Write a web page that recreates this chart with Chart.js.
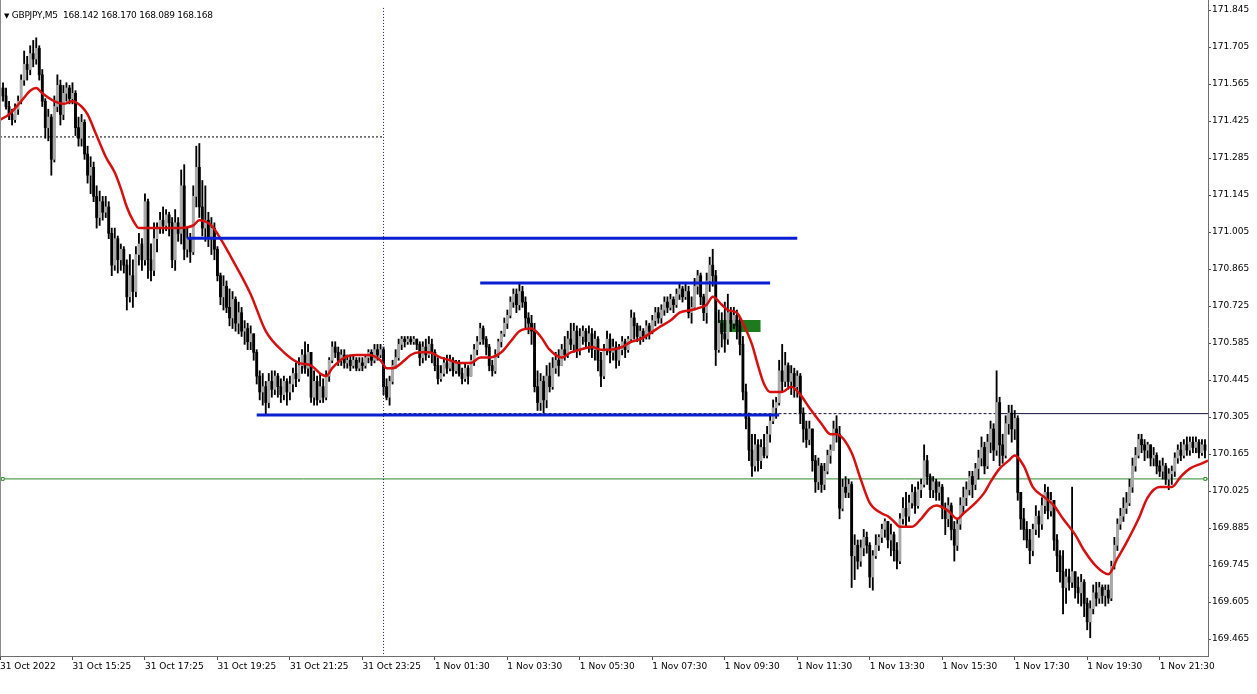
<!DOCTYPE html>
<html>
<head>
<meta charset="utf-8">
<title>GBPJPY,M5</title>
<script src="https://cdn.jsdelivr.net/npm/chart.js@4.4.1/dist/chart.umd.min.js"></script>
<style>
    html, body { margin: 0; padding: 0; background: #fff; }
    #wrap { position: relative; width: 1257px; height: 694px; }
    #chart { display: block; }
    #edge { position: absolute; left: 0; top: 0; width: 1px; height: 656px; background: #8c8c8c; }
    #title { position: absolute; left: 4px; top: 10px; font: 9px "DejaVu Sans", sans-serif; letter-spacing: -0.25px; color: #000; white-space: pre; }
    #title .tri { font-size: 7px; }
</style>
</head>
<body>
<div id="wrap">
    <canvas id="chart" width="1257" height="694"></canvas>
    <div id="edge"></div>
    <div id="title"></div>
</div>
<script>
/* ===== DATA ===== */
const symbol = "GBPJPY,M5";
const quote = ["168.142", "168.170", "168.089", "168.168"];

// one label every 24 bars (2 hours of M5)
const timeLabels = [
    "31 Oct 2022", "31 Oct 15:25", "31 Oct 17:25", "31 Oct 19:25", "31 Oct 21:25", "31 Oct 23:25",
    "1 Nov 01:30", "1 Nov 03:30", "1 Nov 05:30", "1 Nov 07:30", "1 Nov 09:30", "1 Nov 11:30",
    "1 Nov 13:30", "1 Nov 15:30", "1 Nov 17:30", "1 Nov 19:30", "1 Nov 21:30"
];

const priceTicks = [
    169.465, 169.605, 169.745, 169.885, 170.025, 170.165, 170.305, 170.445, 170.585,
    170.725, 170.865, 171.005, 171.145, 171.285, 171.425, 171.565, 171.705, 171.845
];

const firstOpen = 171.50;

// one row = one hour (12 bars), last row 16 bars
const closes = [
    171.55,171.52,171.48,171.45,171.43,171.47,171.50,171.58,171.64,171.62,171.68,171.66,
    171.70,171.60,171.50,171.40,171.44,171.28,171.48,171.56,171.45,171.53,171.55,171.51,
    171.53,171.40,171.36,171.42,171.30,171.22,171.25,171.14,171.06,171.12,171.08,171.10,
    171.00,170.88,170.98,170.90,170.94,170.88,170.76,170.84,170.78,170.92,170.96,170.90,
    171.12,170.90,170.86,170.98,171.02,171.05,171.03,171.07,171.04,170.90,171.04,171.00,
    171.18,170.94,170.98,170.93,171.14,171.25,171.10,171.02,171.05,170.98,171.02,170.94,
    170.84,170.76,170.80,170.72,170.68,170.75,170.66,170.70,170.63,170.64,170.59,170.62,
    170.55,170.46,170.40,170.42,170.36,170.44,170.41,170.46,170.42,170.39,170.44,170.40,
    170.43,170.47,170.45,170.50,170.54,170.49,170.55,170.38,170.44,170.37,170.42,170.38,
    170.46,170.52,170.57,170.55,170.52,170.54,170.51,170.52,170.50,170.52,170.49,170.51,
    170.50,170.53,170.55,170.52,170.56,170.54,170.56,170.42,170.38,170.44,170.50,170.53,
    170.58,170.60,170.59,170.60,170.59,170.60,170.58,170.53,170.57,170.54,170.58,170.55,
    170.50,170.45,170.47,170.51,170.49,170.52,170.48,170.51,170.47,170.45,170.49,170.46,
    170.52,170.56,170.59,170.64,170.60,170.57,170.50,170.48,170.54,170.59,170.62,170.66,
    170.69,170.74,170.77,170.73,170.78,170.74,170.68,170.66,170.63,170.42,170.36,170.44,
    170.37,170.46,170.42,170.49,170.52,170.50,170.56,170.54,170.60,170.58,170.63,170.56,
    170.61,170.63,170.59,170.62,170.56,170.60,170.52,170.46,170.56,170.60,170.55,170.57,
    170.52,170.56,170.59,170.56,170.60,170.68,170.65,170.61,170.63,170.61,170.65,170.63,
    170.67,170.70,170.68,170.71,170.74,170.72,170.75,170.73,170.77,170.79,170.76,170.78,
    170.70,170.72,170.80,170.84,170.76,170.70,170.82,170.88,170.84,170.56,170.66,170.62,
    170.60,170.70,170.66,170.69,170.65,170.58,170.40,170.30,170.18,170.12,170.20,170.14,
    170.19,170.16,170.24,170.29,170.34,170.36,170.48,170.44,170.50,170.44,170.47,170.42,
    170.46,170.32,170.26,170.22,170.26,170.14,170.06,170.12,170.05,170.10,170.16,170.18,
    170.26,170.24,169.96,170.04,170.02,170.05,169.78,169.82,169.76,169.81,169.85,169.82,
    169.70,169.78,169.82,169.85,169.88,169.91,169.84,169.86,169.80,169.76,169.92,169.96,
    169.93,169.98,170.02,169.97,170.03,170.05,170.14,170.08,170.03,170.06,170.02,170.04,
    169.96,169.92,169.97,169.88,169.82,169.90,169.97,170.00,170.03,170.08,170.05,170.11,
    170.15,170.19,170.12,170.21,170.26,170.18,170.36,170.20,170.16,170.28,170.32,170.26,
    170.30,170.02,169.92,169.88,169.84,169.80,169.88,169.93,169.90,169.97,170.02,169.95,
    169.99,169.84,169.78,169.72,169.66,169.70,169.68,169.72,169.66,169.64,169.68,169.60,
    169.53,169.58,169.64,169.62,169.66,169.63,169.65,169.62,169.74,169.82,169.90,169.93,
    169.96,169.98,170.04,170.12,170.16,170.22,170.20,170.18,170.20,170.15,170.16,170.12,
    170.10,170.12,170.07,170.09,170.10,170.15,170.18,170.16,170.20,170.18,170.21,170.19,170.21,170.17,170.20,170.18
];

const highs = [
    171.58,171.57,171.55,171.50,171.47,171.49,171.52,171.60,171.69,171.67,171.71,171.73,
    171.74,171.71,171.62,171.51,171.47,171.45,171.52,171.60,171.58,171.56,171.57,171.56,
    171.57,171.54,171.44,171.45,171.43,171.33,171.29,171.27,171.18,171.16,171.14,171.14,
    171.12,171.02,171.02,170.99,170.96,170.95,170.90,170.92,170.90,170.95,171.00,170.98,
    171.15,171.13,170.96,171.04,171.04,171.08,171.10,171.09,171.08,171.06,171.09,171.06,
    171.24,171.26,171.02,171.00,171.18,171.33,171.34,171.20,171.18,171.08,171.06,171.04,
    170.95,170.85,170.84,170.82,170.79,170.78,170.76,170.74,170.72,170.67,170.66,170.65,
    170.62,170.56,170.48,170.47,170.44,170.47,170.48,170.48,170.47,170.45,170.46,170.45,
    170.46,170.49,170.51,170.53,170.56,170.59,170.58,170.55,170.48,170.46,170.47,170.45,
    170.48,170.53,170.59,170.59,170.57,170.56,170.56,170.54,170.54,170.54,170.53,170.53,
    170.53,170.54,170.56,170.56,170.58,170.58,170.58,170.57,170.45,170.46,170.52,170.56,
    170.60,170.61,170.61,170.61,170.61,170.61,170.60,170.59,170.59,170.60,170.61,170.60,
    170.56,170.53,170.50,170.53,170.54,170.54,170.53,170.52,170.52,170.49,170.51,170.50,
    170.54,170.58,170.61,170.66,170.65,170.61,170.58,170.52,170.56,170.60,170.63,170.68,
    170.71,170.76,170.79,170.79,170.81,170.80,170.76,170.70,170.69,170.66,170.48,170.47,
    170.46,170.50,170.51,170.53,170.55,170.56,170.58,170.61,170.63,170.66,170.66,170.65,
    170.64,170.65,170.64,170.65,170.64,170.63,170.61,170.55,170.58,170.63,170.62,170.60,
    170.59,170.58,170.61,170.60,170.61,170.71,170.70,170.66,170.65,170.64,170.67,170.66,
    170.69,170.72,170.72,170.73,170.76,170.76,170.77,170.76,170.79,170.81,170.80,170.81,
    170.80,170.76,170.83,170.86,170.85,170.77,170.85,170.91,170.94,170.86,170.71,170.70,
    170.74,170.77,170.72,170.72,170.71,170.68,170.61,170.43,170.32,170.24,170.24,170.22,
    170.22,170.24,170.27,170.31,170.37,170.38,170.52,170.58,170.55,170.51,170.50,170.49,
    170.48,170.47,170.34,170.29,170.29,170.26,170.16,170.15,170.13,170.13,170.18,170.20,
    170.29,170.31,170.27,170.07,170.08,170.07,170.06,169.86,169.84,169.84,169.88,169.87,
    169.83,169.80,169.86,169.86,169.90,169.92,169.91,169.90,169.87,169.83,169.94,170.00,
    170.02,170.01,170.05,170.04,170.06,170.07,170.20,170.16,170.09,170.08,170.07,170.06,
    170.05,169.98,170.00,169.98,169.91,169.92,170.00,170.04,170.06,170.10,170.10,170.13,
    170.18,170.23,170.21,170.24,170.29,170.28,170.48,170.38,170.24,170.31,170.35,170.35,
    170.33,170.31,170.02,169.96,169.91,169.88,169.90,169.97,169.95,170.00,170.05,170.04,
    170.02,169.99,169.86,169.80,169.80,169.73,169.73,170.04,169.72,169.70,169.71,169.69,
    169.62,169.61,169.67,169.68,169.68,169.67,169.67,169.67,169.76,169.85,169.92,169.96,
    170.00,170.02,170.07,170.15,170.19,170.24,170.24,170.22,170.21,170.20,170.19,170.17,
    170.14,170.15,170.13,170.11,170.12,170.17,170.20,170.21,170.22,170.23,170.23,170.23,170.23,170.22,170.22,170.22
];

const lows = [
    171.49,171.50,171.47,171.43,171.41,171.42,171.45,171.49,171.56,171.58,171.60,171.63,
    171.64,171.58,171.48,171.36,171.35,171.22,171.27,171.46,171.41,171.43,171.50,171.49,
    171.49,171.37,171.33,171.33,171.28,171.19,171.15,171.12,171.02,171.03,171.05,171.06,
    170.98,170.84,170.86,170.85,170.86,170.85,170.71,170.74,170.72,170.76,170.88,170.86,
    170.88,170.83,170.82,170.84,170.93,171.00,171.00,171.01,170.99,170.87,170.86,170.97,
    170.96,170.90,170.91,170.89,170.92,171.10,171.06,170.99,170.97,170.95,170.92,170.90,
    170.82,170.73,170.71,170.70,170.65,170.64,170.63,170.62,170.61,170.58,170.56,170.56,
    170.52,170.43,170.37,170.35,170.31,170.34,170.38,170.39,170.38,170.36,170.37,170.35,
    170.37,170.40,170.42,170.44,170.47,170.47,170.46,170.36,170.35,170.35,170.36,170.36,
    170.37,170.44,170.51,170.53,170.50,170.50,170.49,170.49,170.48,170.49,170.48,170.48,
    170.48,170.49,170.51,170.50,170.51,170.52,170.53,170.39,170.37,170.35,170.43,170.49,
    170.52,170.56,170.57,170.58,170.58,170.58,170.56,170.50,170.51,170.52,170.53,170.51,
    170.48,170.43,170.44,170.46,170.47,170.48,170.46,170.47,170.46,170.43,170.44,170.43,
    170.46,170.50,170.54,170.58,170.58,170.54,170.48,170.46,170.47,170.53,170.57,170.61,
    170.64,170.68,170.72,170.70,170.71,170.72,170.64,170.62,170.58,170.40,170.33,170.33,
    170.32,170.34,170.40,170.41,170.47,170.46,170.50,170.52,170.53,170.56,170.55,170.53,
    170.54,170.58,170.57,170.55,170.53,170.52,170.48,170.42,170.45,170.54,170.51,170.52,
    170.49,170.50,170.54,170.53,170.55,170.59,170.60,170.59,170.58,170.59,170.60,170.60,
    170.62,170.65,170.66,170.66,170.69,170.70,170.71,170.70,170.72,170.75,170.74,170.75,
    170.68,170.66,170.71,170.77,170.73,170.67,170.66,170.78,170.80,170.50,170.55,170.57,
    170.55,170.58,170.63,170.64,170.60,170.54,170.37,170.26,170.14,170.08,170.10,170.10,
    170.11,170.15,170.15,170.21,170.28,170.30,170.35,170.40,170.42,170.41,170.39,170.38,
    170.38,170.28,170.21,170.19,170.20,170.10,170.02,170.03,170.02,170.03,170.09,170.13,
    170.18,170.21,169.92,169.95,170.00,170.00,169.66,169.69,169.73,169.74,169.78,169.79,
    169.66,169.65,169.77,169.80,169.83,169.85,169.81,169.78,169.76,169.73,169.75,169.90,
    169.89,169.91,169.96,169.94,169.96,170.00,170.04,170.05,170.00,170.00,169.99,169.99,
    169.92,169.86,169.89,169.84,169.76,169.80,169.88,169.94,169.97,170.01,170.00,170.03,
    170.07,170.12,170.09,170.11,170.17,170.14,170.16,170.12,170.13,170.15,170.24,170.21,
    170.22,169.99,169.88,169.84,169.81,169.75,169.78,169.86,169.85,169.88,169.94,169.92,
    169.93,169.80,169.72,169.68,169.56,169.60,169.65,169.66,169.62,169.60,169.59,169.55,
    169.50,169.47,169.56,169.59,169.60,169.60,169.59,169.60,169.61,169.73,169.80,169.88,
    169.91,169.94,169.97,170.02,170.10,170.15,170.17,170.14,170.15,170.12,170.12,170.09,
    170.08,170.07,170.05,170.03,170.05,170.08,170.13,170.14,170.15,170.16,170.16,170.17,170.17,170.15,170.16,170.15
];

// red moving average at these bar numbers
const maBars = [
    0, 3, 7, 10, 12, 14, 18, 21, 24, 27, 29, 32, 35, 38, 40, 42, 44, 46, 51, 55,
    60, 64, 66, 70, 73, 77, 83, 88, 94, 99, 103, 106, 108, 110, 114, 118, 122, 126, 128, 130,
    134, 136, 139, 142, 146, 149, 152, 156, 159, 162, 166, 169, 172, 176, 179, 182, 186, 189, 192, 196,
    199, 202, 206, 209, 212, 215, 219, 222, 225, 229, 232, 234, 236, 239, 241, 244, 246, 249, 251, 253,
    255, 259, 262, 265, 268, 272, 275, 277, 282, 285, 288, 292, 294, 296, 298, 302, 305, 308, 310, 314,
    317, 319, 323, 326, 328, 331, 334, 336, 339, 342, 346, 349, 352, 356, 359, 363, 367, 370, 373, 377,
    380, 384, 388, 391, 394, 398, 400
];
const maValues = [
    171.43,171.45,171.50,171.54,171.55,171.53,171.50,171.49,171.50,171.48,171.45,171.37,171.29,171.23,171.17,171.10,171.05,171.02,171.02,171.02,
    171.02,171.03,171.05,171.03,170.98,170.90,170.77,170.63,170.55,170.51,170.50,170.47,170.46,170.49,170.53,170.54,170.54,170.52,170.49,170.49,
    170.52,170.54,170.55,170.55,170.53,170.52,170.51,170.51,170.53,170.53,170.55,170.59,170.63,170.64,170.61,170.56,170.53,170.55,170.56,170.57,
    170.56,170.56,170.57,170.59,170.60,170.62,170.65,170.67,170.70,170.71,170.72,170.73,170.76,170.73,170.71,170.70,170.66,170.58,170.50,170.43,
    170.40,170.40,170.42,170.39,170.34,170.28,170.24,170.24,170.17,170.07,169.98,169.94,169.93,169.91,169.89,169.89,169.92,169.96,169.97,169.95,
    169.92,169.94,169.98,170.02,170.06,170.11,170.14,170.16,170.12,170.04,170.00,169.97,169.92,169.86,169.80,169.74,169.71,169.77,169.83,169.92,
    170.00,170.04,170.04,170.08,170.11,170.13,170.14
];

// drawn objects: levels in price, spans in bar numbers
const blueLevels = [170.982, 170.812, 170.313];
const blueFrom = [62, 159, 85];
const blueTo = [264, 255, 258];
const greenLevel = 170.071;
const oldHighLevel = 171.365;
const oldHighTo = 126.5;
const midnightBar = 127;
const supportLevel = 170.318;
const supportDashedTo = 331;
const boxTop = 170.672;
const boxBottom = 170.627;
const boxFrom = 237.6;
const boxTo = 251.9;

const BAR_COUNT = closes.length;
const Y_MIN = 169.401;
const Y_MAX = 171.883;

/* ===== TITLE ===== */
document.getElementById("title").innerHTML =
    '<span class="tri">\u25BC</span> ' + symbol + "  " + quote.join(" ");

/* ===== CANDLES ===== */
// M5 forex bars open at the prior bar's close
const opens = closes.map((c, i) => (i === 0 ? firstOpen : closes[i - 1]));
const wicks = highs.map((h, i) => ({ x: i, y: [lows[i], h] }));
const bodies = closes.map((c, i) => ({ x: i, y: [Math.min(opens[i], c), Math.max(opens[i], c)] }));
const bodyColors = closes.map((c, i) => (c >= opens[i] ? "#a9a9a9" : "#000000"));

function hLine(level, from, to) {
    return [{ x: from, y: level }, { x: to, y: level }];
}

const blueSets = blueLevels.map((lv, k) => ({
    type: "line",
    data: hLine(lv, blueFrom[k], blueTo[k]),
    borderColor: "#0a1ed2",
    borderWidth: 3,
    borderCapStyle: "butt",
    pointRadius: 0,
    order: 1
}));

const font = { family: "'DejaVu Sans', sans-serif", size: 9 };

new Chart(document.getElementById("chart"), {
    type: "bar",
    data: {
        datasets: [
            {
                type: "line",
                data: hLine(boxTop, boxFrom, boxTo),
                borderWidth: 0,
                pointRadius: 0,
                fill: { value: boxBottom },
                backgroundColor: "#1f7a1f",
                order: 20
            },
            {
                type: "line",
                data: [{ x: 0, y: greenLevel }, { x: 0.9, y: greenLevel }, { x: BAR_COUNT - 0.9, y: greenLevel }, { x: BAR_COUNT, y: greenLevel }],
                borderColor: "#2a8a2a",
                borderWidth: 1,
                pointRadius: [0, 2, 2, 0],
                pointStyle: "rect",
                pointBackgroundColor: "#ffffff",
                pointBorderColor: "#2a8a2a",
                pointBorderWidth: 1,
                order: 15
            },
            {
                type: "line",
                data: hLine(oldHighLevel, 0, oldHighTo),
                borderColor: "#000000",
                borderWidth: 1,
                borderDash: [2, 2],
                pointRadius: 0,
                order: 15
            },
            {
                type: "line",
                data: hLine(supportLevel, midnightBar, supportDashedTo),
                borderColor: "#10103a",
                borderWidth: 1,
                borderDash: [3, 2],
                pointRadius: 0,
                order: 15
            },
            {
                type: "line",
                data: hLine(supportLevel, supportDashedTo, BAR_COUNT),
                borderColor: "#10103a",
                borderWidth: 1,
                pointRadius: 0,
                order: 15
            },
            {
                data: wicks,
                backgroundColor: "#000000",
                barThickness: 1.2,
                grouped: false,
                order: 11
            },
            {
                data: bodies,
                backgroundColor: bodyColors,
                barThickness: 2.2,
                minBarLength: 1,
                grouped: false,
                order: 10
            },
            {
                type: "line",
                data: maBars.map((b, i) => ({ x: b, y: maValues[i] })),
                borderColor: "#d41010",
                borderWidth: 2.5,
                cubicInterpolationMode: "monotone",
                pointRadius: 0,
                order: 5
            },
            ...blueSets,
            {
                type: "line",
                data: [{ x: midnightBar, y: 171.853 }, { x: midnightBar, y: Y_MIN }],
                borderColor: "#1a1a5a",
                borderWidth: 1,
                borderDash: [1, 2],
                pointRadius: 0,
                order: 0
            }
        ]
    },
    options: {
        responsive: false,
        animation: false,
        devicePixelRatio: 1,
        layout: { padding: 0 },
        plugins: {
            legend: { display: false },
            tooltip: { enabled: false }
        },
        scales: {
            x: {
                type: "linear",
                min: 0,
                max: BAR_COUNT,
                offset: false,
                afterBuildTicks: (s) => { s.ticks = timeLabels.map((t, k) => ({ value: k * 24 })); },
                afterFit: (s) => { s.height = 38; s.paddingLeft = 0; s.paddingRight = 0; },
                ticks: {
                    autoSkip: false,
                    maxRotation: 0,
                    minRotation: 0,
                    align: "start",
                    padding: 1,
                    color: "#000",
                    font: font,
                    callback: (v, i) => timeLabels[i]
                },
                grid: { drawOnChartArea: false, offset: false, tickLength: 4, color: "#505050" },
                border: { color: "#6e6e6e" }
            },
            y: {
                position: "right",
                min: Y_MIN,
                max: Y_MAX,
                afterBuildTicks: (s) => { s.ticks = priceTicks.map((v) => ({ value: v })); },
                afterFit: (s) => { s.width = 49; s.paddingTop = 0; s.paddingBottom = 0; },
                ticks: {
                    crossAlign: "near",
                    padding: 1,
                    color: "#000",
                    font: font,
                    callback: (v) => Number(v).toFixed(3)
                },
                grid: { drawOnChartArea: false, tickLength: 3, color: "#505050" },
                border: { color: "#6e6e6e" }
            }
        }
    }
});
</script>
</body>
</html>
